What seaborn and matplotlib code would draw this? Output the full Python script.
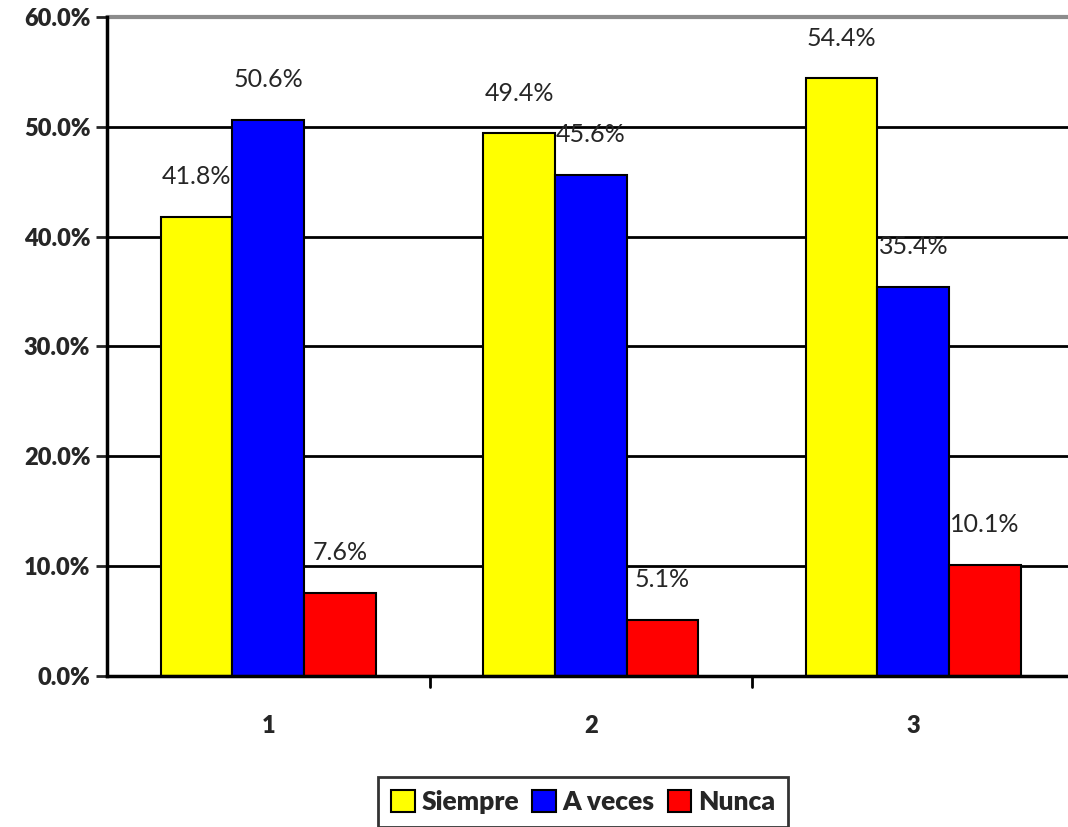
import pandas as pd
import matplotlib.pyplot as plt
import seaborn as sns

# chart values
groups = ["1", "2", "3"]
series = ["Siempre", "A veces", "Nunca"]
siempre = [41.8, 49.4, 54.4]
a_veces = [50.6, 45.6, 35.4]
nunca = [7.6, 5.1, 10.1]
colors = ["#FFFF00", "#0000FF", "#FF0000"]

df = pd.DataFrame({
    "grupo": groups * 3,
    "serie": [s for s in series for _ in groups],
    "valor": siempre + a_veces + nunca,
})

sns.set_style("white")
plt.rcParams['font.family'] = ['Lato', 'DejaVu Sans']

fig = plt.figure(figsize=(10.68, 8.27), dpi=100)
ax = fig.add_axes([0.1002, 0.1826, 0.906, 0.797])

sns.barplot(data=df, x="grupo", y="valor", hue="serie", order=groups,
            hue_order=series, palette=colors, width=0.667, gap=0,
            edgecolor="black", linewidth=1.5, saturation=1, ax=ax)

ax.set_xlim(-0.5, 2.5)
ax.set_ylim(0, 60)
ax.set_yticks(range(0, 70, 10))
ax.set_yticklabels([f"{v:.1f}%" for v in range(0, 70, 10)], fontsize=17, fontweight="heavy")
ax.set_xticks([0, 1, 2])
ax.set_xticklabels(groups, fontsize=17, fontweight="heavy")
ax.tick_params(axis="x", length=0, pad=28)
ax.tick_params(axis="y", length=8, width=2, direction="out", left=True, pad=4)
ax.set_xlabel("")
ax.set_ylabel("")

# gridlines
for v in range(10, 60, 10):
    ax.axhline(v, color="black", linewidth=2, zorder=0)
ax.axhline(60, color="#8c8c8c", linewidth=3, zorder=0, clip_on=False)

# group separator ticks on x axis
for xv in [0.5, 1.5]:
    ax.plot([xv, xv], [0, -1.0], color="black", linewidth=2, clip_on=False)

for side in ["top", "right"]:
    ax.spines[side].set_visible(False)
ax.spines["left"].set_linewidth(2.5)
ax.spines["bottom"].set_linewidth(2.5)
ax.spines["left"].set_color("black")
ax.spines["bottom"].set_color("black")

# value labels
for cont in ax.containers:
    for bar in cont:
        h = bar.get_height()
        ax.annotate(f"{h:.1f}%", (bar.get_x() + bar.get_width() / 2, h),
                    xytext=(0, 29), textcoords="offset points",
                    ha="center", va="center", fontsize=18)

ax.get_legend().remove()
handles = [plt.Rectangle((0, 0), 1, 1, facecolor=c, edgecolor="black", linewidth=1.5) for c in colors]
leg = fig.legend(handles, series, loc="upper center", bbox_to_anchor=(0.546, 0.077),
                 ncol=3, frameon=True, fancybox=False, edgecolor="black",
                 prop={"weight": "heavy", "size": 19}, handlelength=0.9, handleheight=0.9,
                 handletextpad=0.25, columnspacing=0.5, borderpad=0.5)
leg.get_frame().set_linewidth(2)

plt.savefig("out.png", dpi=100)
